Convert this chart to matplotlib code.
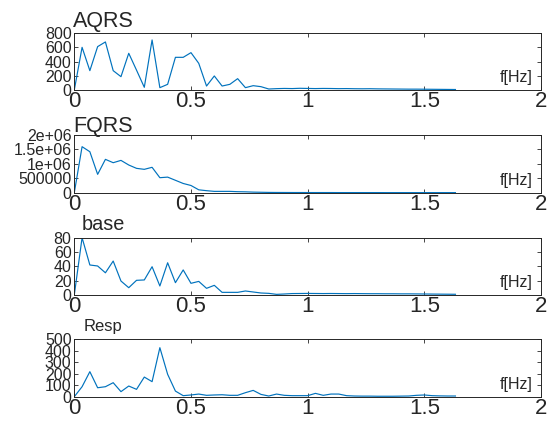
import numpy as np
import matplotlib
matplotlib.use("Agg")
import matplotlib.pyplot as plt
from matplotlib.transforms import offset_copy

plt.rcParams['font.family'] = ['Liberation Sans', 'DejaVu Sans']

# frequency grid (50 bins, 1/30 Hz apart)
freq = np.arange(50) / 30.0

aqrs = [0, 602, 273, 612, 678, 273, 188, 518, 280, 38,
        706, 33, 80, 461, 461, 527, 376, 56, 198, 56,
        80, 160, 33, 61, 47, 14, 19, 22, 20, 24,
        22, 20, 22, 21, 19, 20, 18, 17, 18, 16,
        15, 14, 13, 12, 12, 11, 10, 9, 8, 7]

fqrs = [0, 1.595e6, 1.42e6, 0.636e6, 1.156e6, 1.04e6, 1.12e6, 0.96e6, 0.844e6, 0.81e6,
        0.88e6, 0.52e6, 0.54e6, 0.43e6, 0.32e6, 0.25e6, 0.10e6, 0.07e6, 0.046e6, 0.046e6,
        0.046e6, 0.035e6, 0.03e6, 0.02e6, 0.015e6, 0.01e6, 0.008e6, 0.007e6, 0.006e6, 0.006e6,
        0.005e6, 0.005e6, 0.005e6, 0.005e6, 0.004e6, 0.004e6, 0.004e6, 0.004e6, 0.004e6, 0.004e6,
        0.003e6, 0.003e6, 0.003e6, 0.003e6, 0.003e6, 0.003e6, 0.003e6, 0.003e6, 0.003e6, 0.003e6]

base = [0, 80, 41.9, 40.5, 31, 47.4, 19.5, 10.2, 20.5, 21,
        39.5, 12.6, 45, 17.2, 35, 16.3, 19, 9.3, 13.5, 3.7,
        3.7, 3.7, 5.6, 4.2, 2.8, 2.3, 0.9, 1.4, 2.0, 2.1,
        2.2, 2.1, 2.0, 2.1, 2.0, 1.9, 2.0, 1.9, 1.8, 1.8,
        1.7, 1.7, 1.6, 1.6, 1.5, 1.4, 1.3, 1.2, 1.1, 1.0]

resp = [0, 87, 218, 78, 87, 122, 44, 93, 64, 171,
        131, 427, 195, 49, 9, 15, 23, 12, 15, 17,
        12, 12, 35, 55, 20, 6, 23, 12, 9, 9,
        9, 29, 12, 23, 23, 9, 6, 5, 5, 4,
        4, 4, 5, 6, 12, 15, 9, 7, 6, 6]

series = [aqrs, fqrs, base, resp]
titles = ["AQRS", "FQRS", "base", "Resp"]
yticks = [[0, 200, 400, 600, 800],
          [0, 500000, 1e6, 1.5e6, 2e6],
          [0, 20, 40, 60, 80],
          [0, 100, 200, 300, 400, 500]]
yticklabels = [["0", "200", "400", "600", "800"],
               ["0", "500000", "1e+06", "1.5e+06", "2e+06"],
               ["0", "20", "40", "60", "80"],
               ["0", "100", "200", "300", "400", "500"]]
xticks = [0, 0.5, 1, 1.5, 2]
xticklabels = ["0", "0.5", "1", "1.5", "2"]

# layout (pixels of a 550x422 figure)
W, H = 550.0, 422.0
left_px, right_px = 74.3, 541.0
tops_px = [33.3, 135.0, 237.7, 339.3]
bottoms_px = [90.0, 192.7, 295.0, 396.7]
title_sizes = [15.5, 15.5, 14.3, 12.0]
title_gaps = [4.5, 2.5, 5.2, 5.7]  # points above the axes

edge = "#262626"
blue = "#0072BD"

fig = plt.figure(figsize=(5.5, 4.22), dpi=100)

for i in range(4):
    ax = fig.add_axes([left_px / W, 1 - bottoms_px[i] / H,
                       (right_px - left_px) / W,
                       (bottoms_px[i] - tops_px[i]) / H])
    ax.plot(freq, series[i], color=blue, lw=0.85)
    ax.set_xlim(0, 2)
    ax.set_ylim(yticks[i][0], yticks[i][-1])
    ax.set_xticks(xticks)
    ax.set_xticklabels(xticklabels)
    ax.set_yticks(yticks[i])
    ax.set_yticklabels(yticklabels[i])
    ax.tick_params(axis="both", direction="in", length=3, width=0.6,
                   colors=edge, top=True, right=True)
    ax.tick_params(axis="x", labelsize=16, pad=1)
    ax.tick_params(axis="y", labelsize=11.5, pad=2)
    for s in ax.spines.values():
        s.set_color(edge)
        s.set_linewidth(0.7)
    tr = offset_copy(ax.transAxes, fig=fig, y=title_gaps[i], units="points")
    ax.text(0.0615, 1.0, titles[i], transform=tr, ha="center",
            va="baseline", fontsize=title_sizes[i], color=edge)
    ax.text(0.983, 0.22, "f[Hz]", transform=ax.transAxes, ha="right",
            va="center", fontsize=11.5, color=edge)

fig.savefig("out.png", dpi=100)
